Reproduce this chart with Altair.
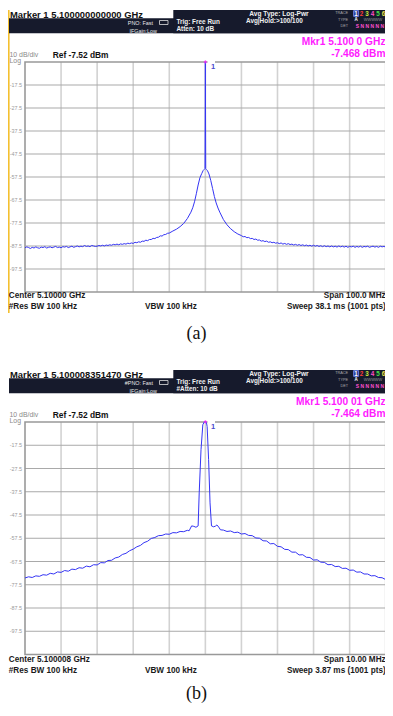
import altair as alt
import pandas as pd

# ---------------- data ----------------
# Panel (a): offset from 5.1 GHz centre in MHz, level in dBm
freq_a = [-50, -49.5, -49, -48.5, -48, -47.5, -47, -46.5, -46, -45.5, -45, -44.5, -44, -43.5,
          -43, -42.5, -42, -41.5, -41, -40.5, -40, -39.5, -39, -38.5, -38, -37.5, -37, -36.5,
          -36, -35.5, -35, -34.5, -34, -33.5, -33, -32.5, -32, -31.5, -31, -30.5,
          -30, -29.5, -29, -28.5, -28, -27.5, -27, -26.5, -26, -25.5, -25, -24.5, -24, -23.5,
          -23, -22.5, -22, -21.5, -21, -20.5, -20, -19.5, -19, -18.5, -18, -17.5, -17, -16.5,
          -16, -15.5, -15, -14.5, -14, -13.5, -13, -12.5, -12, -11.5, -11, -10.5, -10,
          -9, -8, -7, -6, -5, -4, -3.5, -3, -2.5, -2, -1.5, -1, -0.6, -0.3, -0.1, 0,
          0.1, 0.3, 0.6, 1.0, 1.5, 2.0, 2.5, 3.0, 3.5, 4.0, 5, 6, 7, 8, 9,
          10, 10.5, 11, 11.5, 12, 12.5, 13, 13.5, 14, 14.5, 15, 15.5, 16, 16.5, 17, 17.5,
          18, 18.5, 19, 19.5, 20, 20.5, 21, 21.5, 22, 22.5, 23, 23.5, 24, 24.5, 25, 25.5,
          26, 26.5, 27, 27.5, 28, 28.5, 29, 29.5, 30, 30.5, 31, 31.5, 32, 32.5, 33, 33.5,
          34, 34.5, 35, 35.5, 36, 36.5, 37, 37.5, 38, 38.5, 39, 39.5, 40, 40.5, 41, 41.5,
          42, 42.5, 43, 43.5, 44, 44.5, 45, 45.5, 46, 46.5, 47, 47.5, 48, 48.5, 49, 49.5, 50]
level_a = [-88.3, -87.9, -88.2, -88.6, -88.1, -88.4, -87.9, -88.3, -88.5, -88.0, -88.2, -87.8,
           -88.4, -88.1, -87.9, -88.3, -88.0, -87.7, -88.2, -88.0, -88.3, -87.8, -88.0, -87.7,
           -88.2, -87.9, -87.6, -88.1, -87.8, -87.5, -87.9, -87.6, -87.8, -87.3, -87.7, -87.5,
           -87.8, -87.3, -87.5, -87.7,
           -87.6, -87.3, -87.5, -87.2, -87.5, -87.1, -87.3, -87.0, -87.2, -86.8, -87.0, -86.7,
           -87.0, -86.6, -86.8, -86.5, -86.7, -86.3, -86.5, -86.2, -86.4, -85.9, -86.1, -85.7,
           -85.9, -85.4, -85.5, -85.0, -85.2, -84.7, -84.7, -84.2, -84.3, -83.8, -83.7, -83.1,
           -83.2, -82.6, -82.5, -82.0, -81.9,
           -81.0, -80.2, -79.1, -77.7, -75.6, -72.8, -70.9, -68.3, -64.8, -61.0, -57.8, -56.0,
           -54.7, -54.2, -53.8, -7.47,
           -53.9, -54.3, -54.8, -56.2, -59.0, -62.5, -66.0, -68.8, -71.0, -72.8, -76.0, -78.3,
           -80.0, -81.3, -82.3,
           -83.0, -83.5, -83.4, -83.9, -83.8, -84.3, -84.2, -84.7, -84.5, -85.0, -84.9, -85.4,
           -85.2, -85.6, -85.4, -85.9, -85.7, -86.1, -85.9, -86.3, -86.1, -86.5, -86.2, -86.7,
           -86.4, -86.8, -86.5, -86.9, -86.7, -87.1, -86.8, -87.2, -86.9, -87.3, -87.0, -87.4,
           -87.1, -87.5, -87.2, -87.6, -87.2, -87.6, -87.3, -87.7, -87.4, -87.8, -87.4, -87.8,
           -87.5, -87.9, -87.5, -87.9, -87.6, -88.0, -87.5, -87.9, -87.6, -88.0, -87.6, -88.1,
           -87.7, -87.9, -87.6, -88.1, -87.7, -88.0, -87.6, -88.1, -87.7, -87.9, -87.6, -88.1,
           -87.8, -87.6, -88.0, -87.7, -88.1, -87.6, -87.9, -87.7, -88.0]

# Panel (b): offset from 5.100008 GHz centre in MHz, level in dBm
freq_b = [-5.0, -4.9, -4.8, -4.7, -4.6, -4.5, -4.4, -4.3, -4.2, -4.1, -4.0, -3.9, -3.8, -3.7,
          -3.6, -3.5, -3.4, -3.3, -3.2, -3.1, -3.0, -2.9, -2.8, -2.7, -2.6, -2.5, -2.4, -2.3,
          -2.2, -2.1, -2.0, -1.9, -1.8, -1.7, -1.6, -1.5, -1.4, -1.3, -1.2, -1.1, -1.0, -0.9,
          -0.8, -0.7, -0.6, -0.5, -0.45, -0.38, -0.32, -0.26, -0.2, -0.17, -0.12, -0.07,
          -0.03, 0.0, 0.03, 0.05, 0.09, 0.13, 0.17, 0.23, 0.28, 0.32, 0.37, 0.42, 0.5, 0.6,
          0.7, 0.8, 0.9, 1.0, 1.1, 1.2, 1.3, 1.4, 1.5, 1.6, 1.7, 1.8, 1.9, 2.0, 2.1, 2.2, 2.3,
          2.4, 2.5, 2.6, 2.7, 2.8, 2.9, 3.0, 3.1, 3.2, 3.3, 3.4, 3.5, 3.6, 3.7, 3.8, 3.9, 4.0,
          4.1, 4.2, 4.3, 4.4, 4.5, 4.6, 4.7, 4.8, 4.9, 5.0]
level_b = [-74.6, -74.1, -74.4, -73.7, -73.9, -73.2, -73.4, -72.6, -72.9, -72.0, -72.2, -71.4,
           -71.7, -70.8, -71.0, -70.2, -70.4, -69.5, -69.8, -68.9, -69.0, -68.0, -68.1, -67.1,
           -67.0, -66.0, -65.6, -64.5, -64.0, -62.9, -62.2, -61.2, -60.6, -59.4, -58.8, -57.6,
           -57.2, -56.4, -56.3, -55.7, -55.8, -55.1, -55.2, -54.6, -54.7, -54.1, -54.3,
           -52.2, -52.4, -52.8, -52.2, -38.0, -19.4, -8.7, -7.5, -7.46, -7.7, -9.5, -23.7,
           -42.3, -52.2, -52.6, -52.3, -51.8, -52.7, -53.9,
           -54.0, -54.6, -54.4, -55.1, -54.9, -55.7, -55.5, -56.3, -56.4, -57.4, -57.5, -58.6,
           -58.7, -59.9, -59.8, -61.0, -61.2, -62.3, -62.4, -63.5, -63.5, -64.7, -64.6, -65.7,
           -65.8, -66.9, -66.8, -67.8, -67.9, -68.9, -68.8, -69.7, -69.6, -70.5, -70.4, -71.3,
           -71.2, -72.1, -72.0, -72.9, -72.9, -73.7, -73.6, -74.4, -74.5, -75.3]

grid_freq_a = [-40, -30, -20, -10, 0, 10, 20, 30, 40]
grid_freq_b = [-4, -3, -2, -1, 0, 1, 2, 3, 4]
grid_db = [-17.52, -27.52, -37.52, -47.52, -57.52, -67.52, -77.52, -87.52, -97.52]
grid_db_labels = ["-17.5", "-27.5", "-37.5", "-47.5", "-57.5", "-67.5", "-77.5", "-87.5", "-97.5"]
ref_level = -7.52
bottom_level = -107.52
peak_a = -7.468
peak_b = -7.464

# ---------------- helpers ----------------
M = 8  # page margin
FONT = "Liberation Sans"
dummy = pd.DataFrame({"d": [0]})


def P(v):
    return v - M


def txt(s, x, y, size, color="#222222", weight="normal", align="left", font=FONT):
    return alt.Chart(dummy).mark_text(
        text=s, align=align, baseline="middle", fontSize=size, color=color,
        fontWeight=weight, font=font
    ).encode(x=alt.value(P(x)), y=alt.value(P(y)))


def box(x1, x2, y1, y2, fill, **kw):
    return alt.Chart(dummy).mark_rect(color=fill, **kw).encode(
        x=alt.value(P(x1)), x2=alt.value(P(x2)), y=alt.value(P(y1)), y2=alt.value(P(y2)))


def vline(x, y1, y2, color, w):
    return alt.Chart(dummy).mark_rule(color=color, strokeWidth=w).encode(
        x=alt.value(P(x)), y=alt.value(P(y1)), y2=alt.value(P(y2)))


DARK = "#161a2c"
MAG = "#ff1aff"
L, R = 25, 385.7


def panel(dy, top, bot, freqs, levels, gfreq, xdom, peak, hdr, mkr, mkr_lvl,
          pno, atten, center, span, sweep, tag, fdy, tag_y, yellow):
    xs = alt.Scale(domain=xdom, range=[P(L), P(R)], nice=False, zero=False)
    ys = alt.Scale(domain=[bottom_level, ref_level], range=[P(bot), P(top)], nice=False, zero=False)
    lay = []
    if yellow:
        lay.append(vline(8.8, 10, 313, "#f4c030", 1.6))
    # header
    lay.append(txt(hdr, 10, 15 + dy, 9.4, "#111111", "bold"))
    lay.append(box(9, 388, 18.3 + dy, 33.3 + dy, DARK))
    lay.append(box(173.3, 388, 10 + dy, 33.3 + dy, DARK))
    lay.append(txt(pno, 153, 22.8 + dy, 5.4, "#e8e8e8", align="right"))
    lay.append(txt("IFGain:Low", 157, 30.5 + dy, 5.4, "#e8e8e8", align="right"))
    lay.append(box(159.5, 168, 20.5 + dy, 24.5 + dy, DARK, stroke="#dddddd", strokeWidth=0.8))
    lay.append(txt("Trig: Free Run", 176.5, 21.5 + dy, 6.4, "#f0f0f0", "bold"))
    lay.append(txt(atten, 176.5, 29.3 + dy, 6.4, "#f0f0f0", "bold"))
    lay.append(txt("Avg Type: Log-Pwr", 279, 13.7 + dy, 6.6, "#f0f0f0", "bold", "center"))
    lay.append(txt("Avg|Hold:>100/100", 246, 21 + dy, 6.4, "#f0f0f0", "bold"))
    lay.append(txt("TRACE", 348, 13.3 + dy, 3.8, "#aaaaaa", align="right"))
    lay.append(txt("TYPE", 348, 20 + dy, 3.8, "#aaaaaa", align="right"))
    lay.append(txt("DET", 348, 26.3 + dy, 3.8, "#aaaaaa", align="right"))
    lay.append(box(353.6, 358.6, 10.6 + dy, 16.4 + dy, "#2a3a90", stroke="#7a90ff", strokeWidth=0.8))
    digit_cols = ["#ffffff", "#ff3b3b", "#c9e63a", "#ff4fc8", "#46e046", "#e8e04a"]
    for i, c in enumerate(digit_cols):
        lay.append(txt(str(i + 1), 356.1 + 5.5 * i, 13.5 + dy, 6.3, c, "bold", "center"))
    lay.append(txt("A", 356.1, 20 + dy, 4.5, "#ffffff", "bold", "center"))
    lay.append(txt("WWWWW", 373, 20 + dy, 3.9, "#9a9a9a", align="center"))
    lay.append(txt("S N N N N N", 369.9, 26.3 + dy, 5.0, "#ff4fd0", "bold", "center"))
    # marker readout
    lay.append(txt(mkr, 385.5, 42.3 + dy, 10.2, MAG, "bold", "right"))
    lay.append(txt(mkr_lvl, 385.5, 53.5 + dy, 10.2, MAG, "bold", "right"))
    lay.append(txt("10 dB/div", 9.5, 55 + dy, 6.9, "#8a8a8a"))
    lay.append(txt("Log", 9.5, 61.3 + dy, 6.9, "#8a8a8a"))
    lay.append(txt("Ref " + str(ref_level) + " dBm", 52.7, 54.8 + dy, 8.4, "#111111", "bold"))
    # grid
    gx = pd.DataFrame({"f": gfreq})
    gy = pd.DataFrame({"v": grid_db, "lab": grid_db_labels})
    lay.append(alt.Chart(gx).mark_rule(color="#d2d2d2", strokeWidth=1.6).encode(
        x=alt.X("f:Q", scale=xs, axis=None), y=alt.value(P(top)), y2=alt.value(P(bot))))
    lay.append(alt.Chart(gy).mark_rule(color="#a9a9a9", strokeWidth=1).encode(
        y=alt.Y("v:Q", scale=ys, axis=None), x=alt.value(P(L)), x2=alt.value(P(R))))
    lay.append(alt.Chart(gy).mark_text(align="right", baseline="middle", fontSize=5.4,
                                       color="#9a9a9a", font=FONT).encode(
        y=alt.Y("v:Q", scale=ys, axis=None), x=alt.value(P(22)), text="lab:N"))
    # frame
    lay.append(box(L, R, top, bot, "#ffffff", fillOpacity=0, stroke="#999999", strokeWidth=1.6))
    # trace
    tr = pd.DataFrame({"f": freqs, "v": levels})
    lay.append(alt.Chart(tr).mark_line(color="#3434f4", strokeWidth=1, interpolate="linear").encode(
        x=alt.X("f:Q", scale=xs, axis=None), y=alt.Y("v:Q", scale=ys, axis=None)))
    # marker
    lay.append(box(207.5, 215, top - 1.5, top + 1.2, "#ffffff"))
    pk = pd.DataFrame({"f": [0], "v": [peak]})
    lay.append(alt.Chart(pk).mark_point(shape="diamond", filled=True, color=MAG, size=14).encode(
        x=alt.X("f:Q", scale=xs, axis=None), y=alt.Y("v:Q", scale=ys, axis=None)))
    lay.append(txt("1", 211, top + 4.5, 7.5, "#4a4ad0", "bold"))
    # footer
    lay.append(txt(center, 8.8, 295.8 + fdy, 8.2, "#1a1a1a", "bold"))
    lay.append(txt(span, 385.7, 295.8 + fdy, 8.2, "#1a1a1a", "bold", "right"))
    lay.append(txt("#Res BW 100 kHz", 8.8, 306.6 + fdy, 8.2, "#1a1a1a", "bold"))
    lay.append(txt("VBW 100 kHz", 145, 306.6 + fdy, 8.2, "#1a1a1a", "bold"))
    lay.append(txt(sweep, 385.7, 306.6 + fdy, 8.2, "#1a1a1a", "bold", "right"))
    lay.append(txt(tag, 196.5, tag_y, 18, "#111111", font="Liberation Serif", align="center"))
    return lay


layers = []
layers += panel(0, 62, 292, freq_a, level_a, grid_freq_a, [-50, 50], peak_a,
                "Marker 1 5.100000000000 GHz", "Mkr1 5.100 0 GHz", "-7.468 dBm",
                "PNO: Fast", "Atten: 10 dB", "Center 5.10000 GHz", "Span 100.0 MHz",
                "Sweep  38.1 ms (1001 pts)", "(a)", 0, 333.8, True)
layers += panel(360, 422, 654.5, freq_b, level_b, grid_freq_b, [-5, 5], peak_b,
                "Marker 1 5.100008351470 GHz", "Mkr1 5.100 01 GHz", "-7.464 dBm",
                "#PNO: Fast", "#Atten: 10 dB", "Center 5.100008 GHz", "Span 10.00 MHz",
                "Sweep  3.87 ms (1001 pts)", "(b)", 364, 693.8, False)

chart = alt.layer(*layers).resolve_scale(x="independent", y="independent").properties(
    width=377, height=700, padding=0, background="#ffffff",
    autosize=alt.AutoSizeParams(type="none")
).configure_view(strokeWidth=0)

chart.save("out.html", embed_options={"renderer": "svg", "actions": False})
